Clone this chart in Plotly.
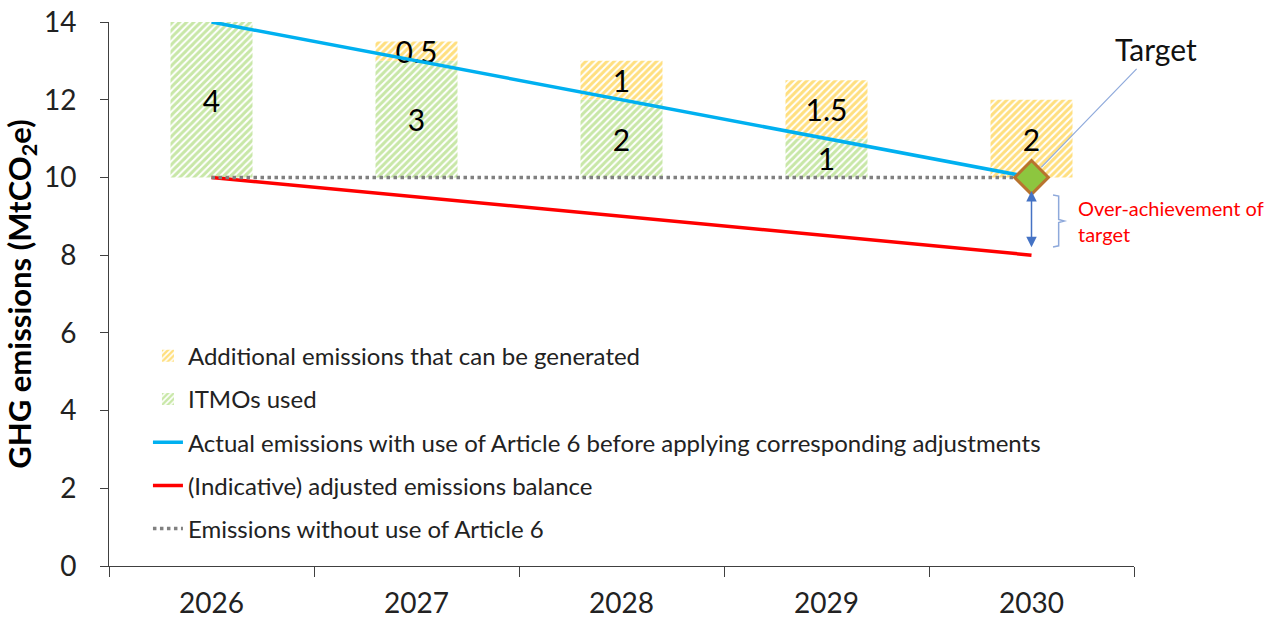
import plotly.graph_objects as go

years = ["2026", "2027", "2028", "2029", "2030"]
baseline = [10, 10, 10, 10, 10]          # Emissions without use of Article 6
itmos = [4, 3, 2, 1, 0]                  # ITMOs used
additional = [0, 0.5, 1, 1.5, 2]         # Additional emissions that can be generated
actual = [14, 13, 12, 11, 10]            # Actual emissions with use of Article 6
adjusted = [10, 9.5, 9, 8.5, 8]          # (Indicative) adjusted emissions balance
target_year = "2030"
target_value = 10

FONT = "Lato"
GREEN = "#92D050"
ORANGE = "#FFC000"
BLUE = "#00B0F0"
RED = "#FF0000"
GREY = "#808080"

def fmt(v):
    if v == 0:
        return ""
    return ("%g" % v)

fig = go.Figure()

orange_base = [b + i for b, i in zip(baseline, itmos)]
target_idx = years.index(target_year)

fig.add_trace(go.Bar(
    x=years, y=itmos, base=baseline, name="ITMOs used",
    width=0.4, legendrank=2, legendgroup="g2",
    marker=dict(color="white", line=dict(width=0),
                pattern=dict(shape="/", fgcolor=GREEN, bgcolor="white", size=5, solidity=0.6)),
    text=[fmt(v) for v in itmos], textposition="inside", insidetextanchor="middle",
    constraintext="none", textangle=0, textfont=dict(size=30, color="black", family=FONT),
    hoverinfo="skip",
))
fig.add_trace(go.Bar(
    x=years, y=additional, base=orange_base, name="Additional emissions that can be generated",
    width=0.4, legendrank=1, legendgroup="g1",
    marker=dict(color="white", line=dict(width=0),
                pattern=dict(shape="/", fgcolor=ORANGE, bgcolor="white", size=5, solidity=0.6)),
    text=[fmt(v) for v in additional], textposition="inside", insidetextanchor="middle",
    constraintext="none", textangle=0, textfont=dict(size=30, color="black", family=FONT),
    hoverinfo="skip",
))
fig.add_trace(go.Scatter(
    x=years, y=actual, mode="lines", name="Actual emissions with use of Article 6 before applying corresponding adjustments",
    line=dict(color=BLUE, width=3.5), legendrank=3, legendgroup="g3",
))
fig.add_trace(go.Scatter(
    x=years, y=adjusted, mode="lines", name="(Indicative) adjusted emissions balance",
    line=dict(color=RED, width=3.5), legendrank=4, legendgroup="g4",
))
fig.add_trace(go.Scatter(
    x=years, y=baseline, mode="lines", name="Emissions without use of Article 6",
    line=dict(color=GREY, width=3.5, dash="dot"), legendrank=5, legendgroup="g5",
))
fig.add_trace(go.Scatter(
    x=[target_year], y=[target_value], mode="markers", showlegend=False,
    marker=dict(symbol="diamond", size=26, color="#8DC63F", line=dict(color="#B8732E", width=3)),
))

fig.update_layout(
    width=1278, height=625,
    margin=dict(l=109, r=144, t=22, b=59),
    plot_bgcolor="white", paper_bgcolor="white",
    barmode="overlay",
    font=dict(family=FONT, color="#222222"),
    showlegend=True,
    legend=dict(x=0.038, y=0.427, xanchor="left", yanchor="top",
                bgcolor="rgba(0,0,0,0)", font=dict(size=24, family=FONT, color="#222222"),
                traceorder="grouped", tracegroupgap=9, itemwidth=30),
    xaxis=dict(type="category", categoryorder="array", categoryarray=years,
               range=[-0.5, len(years) - 0.5], tickangle=0,
               showline=True, linecolor="#404040", linewidth=1,
               ticks="outside", tickson="boundaries", ticklen=10, tickcolor="#404040",
               tickfont=dict(size=28, family=FONT, color="#222222"), ticklabelstandoff=12,
               showgrid=False, zeroline=False, automargin=False),
    yaxis=dict(range=[0, 14], dtick=2, showline=True, linecolor="#404040", linewidth=1,
               ticks="outside", ticklen=8, tickcolor="#404040",
               tickfont=dict(size=28, family=FONT, color="#222222"), ticklabelstandoff=18,
               showgrid=False, zeroline=False, automargin=False,
               title=dict(text="<b>GHG emissions (MtCO<sub>2</sub>e)</b>",
                          font=dict(size=31, family=FONT, color="black"), standoff=3)),
)

# Target label with leader line
fig.add_annotation(x=target_idx, y=target_value, xref="x", yref="y", text="Target",
                   showarrow=True, arrowhead=0, arrowwidth=1.2, arrowcolor="#8FAADC",
                   ax=124, ay=-128, standoff=14,
                   font=dict(size=30, family=FONT, color="#111111"))

# Double-headed arrow showing over-achievement
fig.add_annotation(x=target_idx, y=adjusted[-1], xref="x", yref="y",
                   ax=target_idx, ay=target_value, axref="x", ayref="y",
                   text="", showarrow=True, arrowside="end+start", arrowhead=2, startarrowhead=2,
                   arrowsize=1.4, startarrowsize=1.4, arrowwidth=1.5, arrowcolor="#4472C4",
                   standoff=8, startstandoff=12)

# Bracket
fig.add_shape(type="path", xref="paper", yref="y",
              path="M 0.921,9.55 L 0.9265,9.52 L 0.9265,8.92 L 0.932,8.88 L 0.9265,8.84 L 0.9265,8.24 L 0.921,8.21",
              line=dict(color="#8EA9DB", width=1.5))

fig.add_annotation(x=0.943, y=8.88, xref="paper", yref="y", xanchor="left", yanchor="middle",
                   text="Over-achievement of<br>target", showarrow=False, align="left",
                   font=dict(size=20, family=FONT, color="#FF0000"))

fig.write_html("out.html", config={"displayModeBar": False},
               post_script="document.body.style.margin='0';")
